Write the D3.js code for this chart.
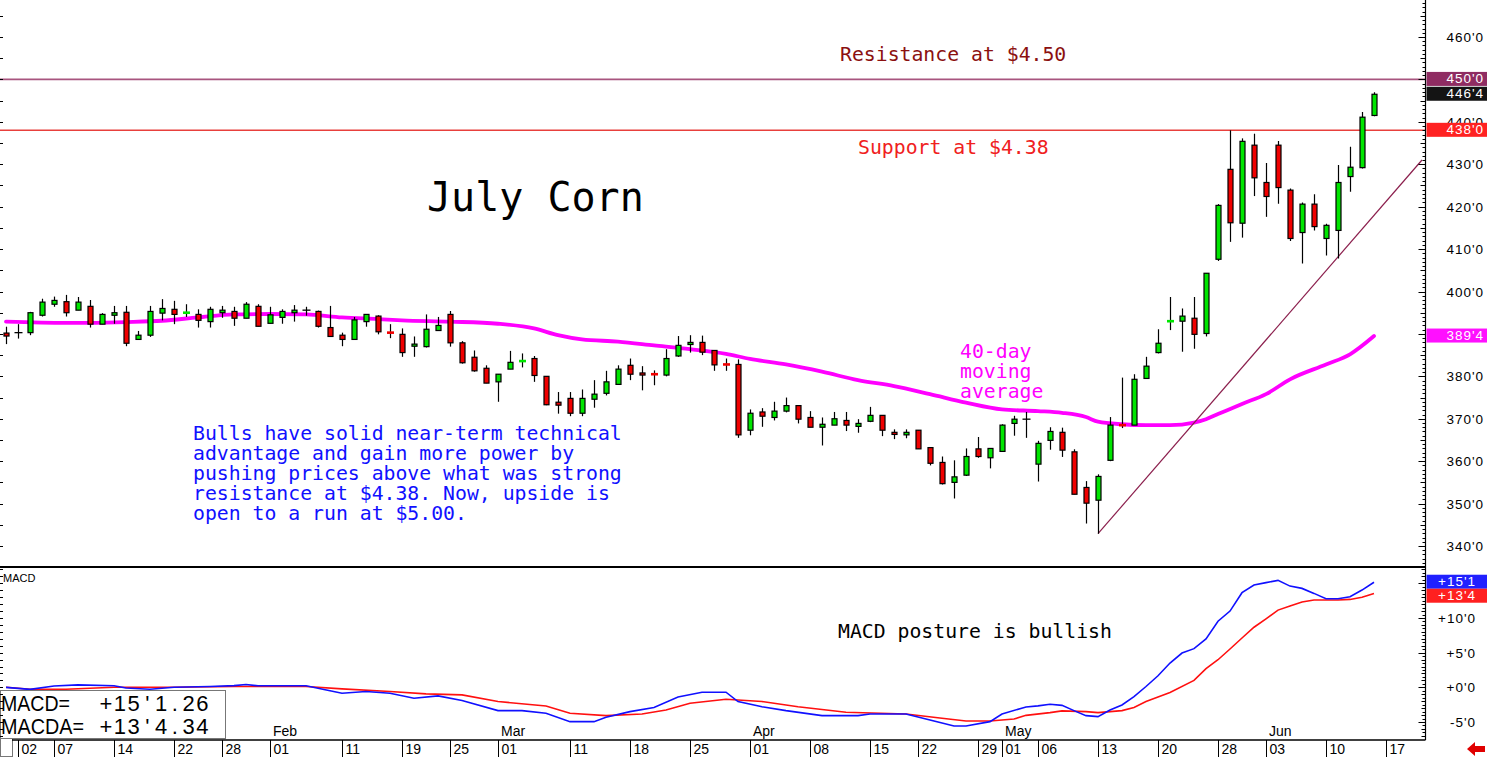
<!DOCTYPE html>
<html>
<head>
<meta charset="utf-8">
<script src="https://cdn.jsdelivr.net/npm/d3@7"></script>
<style>
  body { margin: 0; background: #fff; }
  svg { display: block; font-family: "Liberation Sans", Arial, sans-serif; }
  .note { font-family: "DejaVu Sans Mono", monospace; font-size: 19.8px; }
  .date { font-family: "Liberation Sans Narrow", "Liberation Sans", Arial, sans-serif; font-size: 14px; }
</style>
</head>
<body>
<div id="chart"></div>
<script>
// daily candles, Dec 31 2018 .. Jun 14 2019 (index = trading day)
const opens = [390.2,390.3,390.3,394.4,397.0,397.6,395.6,396.5,392.3,394.4,
  395.1,388.7,389.7,394.9,395.8,394.9,394.6,392.9,395.0,395.3,
  393.7,396.5,392.5,393.9,395.0,395.6,395.3,391.5,389.7,388.7,
  392.9,394.2,390.4,389.9,387.1,387.0,390.8,394.6,387.9,384.5,
  381.9,378.7,381.7,383.5,384.2,380.0,373.9,374.8,371.3,374.6,
  376.0,378.1,382.6,380.8,380.6,380.3,384.8,387.5,388.0,386.1,
  382.9,382.8,367.3,371.6,370.3,371.8,373.1,370.3,368.0,368.5,
  369.6,368.2,369.4,370.8,366.8,366.2,367.3,363.2,359.7,355.0,
  356.7,362.9,360.8,362.3,368.9,369.9,359.3,364.9,366.8,362.2,
  353.8,350.8,360.2,368.6,368.5,379.5,385.6,392.9,393.0,393.7,
  390.1,407.6,428.8,416.1,434.5,425.7,434.5,423.9,413.9,420.6,
  412.5,414.4,427.1,429.2,441.5];
const highs = [391.7,392.3,395.2,398.3,398.8,399.2,398.7,398.0,394.9,396.6,
  396.6,390.7,396.6,398.2,397.8,397.0,395.8,396.4,396.6,396.4,
  397.5,397.0,396.4,395.8,396.8,396.4,395.5,396.6,390.3,394.0,
  394.6,394.4,392.3,391.3,389.4,394.6,394.0,395.4,388.3,386.1,
  382.6,380.5,386.0,385.4,384.8,380.0,376.3,376.3,376.9,379.1,
  381.3,382.6,384.2,382.4,381.4,386.4,389.5,389.7,389.6,386.1,
  384.2,384.0,372.2,372.5,374.0,375.0,373.1,371.8,370.3,371.6,
  371.6,369.9,372.8,370.8,367.5,367.5,367.3,363.2,361.1,360.2,
  363.0,365.7,363.0,368.7,370.7,371.6,364.8,368.0,367.9,362.8,
  355.3,356.9,370.4,379.7,380.5,384.6,391.1,398.7,396.0,398.7,
  404.3,420.6,438.0,436.1,437.2,430.3,435.5,424.3,421.0,422.9,
  416.0,429.8,434.1,442.3,447.0];
const lows = [387.6,388.9,389.7,394.1,396.4,394.1,395.6,391.5,392.3,392.4,
  387.1,388.7,389.3,393.2,392.3,394.0,391.5,391.5,393.8,391.9,
  393.7,391.8,392.5,392.4,392.9,394.3,391.5,389.4,387.1,388.7,
  391.7,389.9,389.0,384.6,384.6,386.8,390.8,387.0,383.0,381.1,
  378.4,374.0,381.7,382.1,378.7,373.2,371.2,370.6,370.6,372.6,
  375.5,378.1,379.1,376.7,377.9,380.0,384.6,385.6,385.0,381.3,
  381.3,365.5,366.1,368.1,369.6,371.5,368.9,368.0,363.7,368.5,
  367.1,366.7,369.2,365.9,365.2,365.4,362.9,359.0,354.5,351.2,
  356.5,360.8,358.3,362.3,366.0,365.5,355.2,362.7,361.0,352.2,
  345.3,342.9,360.0,367.8,368.5,379.5,385.4,390.9,385.8,386.5,
  389.4,407.2,411.7,412.7,422.5,417.6,420.7,411.9,406.6,414.4,
  408.5,407.8,423.5,429.0,441.3];
const closes = [389.5,390.3,395.0,397.5,397.9,395.0,397.5,392.3,394.6,395.0,
  387.8,389.7,395.3,396.0,394.6,395.1,393.2,395.8,395.6,393.7,
  397.0,391.8,394.5,395.3,395.6,395.6,391.8,389.4,388.7,393.3,
  394.6,390.5,390.2,385.6,387.6,391.1,392.0,387.9,383.2,381.3,
  378.4,380.5,383.3,383.7,380.2,373.3,373.2,371.3,374.8,375.8,
  378.7,381.7,380.5,380.3,380.4,384.2,387.3,388.0,385.7,382.7,
  382.7,366.2,371.3,370.6,371.8,373.1,369.9,368.0,368.7,370.0,
  368.5,368.9,370.8,367.3,366.3,366.8,362.9,359.5,354.7,356.3,
  361.1,361.1,363.0,368.5,369.9,369.9,364.2,367.0,362.6,352.2,
  350.1,356.4,368.5,368.4,379.3,382.4,387.8,393.1,394.2,389.9,
  404.3,420.3,416.2,435.4,426.8,422.4,424.5,412.5,420.6,415.3,
  415.6,425.7,429.3,441.1,446.5];

// 40-day moving average at these days
const maDays = [0,5,10,13,16,19,22,25,28,31,33,37,41,44,46,48,51,54,57,60,62,65,68,71,74,77,80,83,86,88,90,91,93,95,97,99,100,101,103,105,107,110,112,114];
const maValues = [392.9,392.6,392.8,393.1,393.9,394.6,394.7,394.6,393.9,393.5,393.2,392.9,392.4,391.3,389.7,388.7,388.2,387.3,386.4,385.3,384.1,382.8,381.1,379.1,377.7,375.8,373.8,372.2,371.8,371.4,370.4,369.3,368.7,368.5,368.5,369.1,369.9,371.1,373.5,375.8,379.3,382.8,385.2,389.5];

// MACD (blue) and its average (red)
const macdDays = [0,2,4,6,9,10,12,14,17,19,20,21,25,27,28,30,32,34,36,38,41,43,45,47,49,50,52,54,56,58,60,61,63,65,68,71,72,75,77,79,80,82,83,85,86,87,88,89,90,91,92,93,94,95,96,97,98,99,100,101,102,103,104,105,106,107,108,109,110,111,112,113,114];
const macdValues = [0.0,-0.3,0.2,0.36,0.22,-0.1,-0.27,0.02,0.12,0.25,0.41,0.22,0.22,-0.5,-0.85,-0.6,-0.85,-1.57,-1.23,-1.9,-3.36,-3.36,-3.74,-4.95,-4.95,-4.3,-3.5,-2.9,-1.4,-0.7,-0.7,-2.05,-2.8,-3.36,-4.08,-4.08,-3.84,-3.84,-4.71,-5.58,-5.58,-4.95,-3.84,-2.83,-2.68,-2.44,-2.6,-3.36,-4.08,-4.23,-3.26,-2.54,-1.33,0.12,1.67,3.5,4.95,5.58,6.98,9.54,11.0,13.65,14.76,15.1,15.43,14.6,14.27,13.55,12.78,12.78,13.07,14.03,15.16];
const signalDays = [0,2,5,9,14,19,25,28,32,35,38,41,45,47,50,53,55,57,60,63,66,70,75,78,80,82,84,85,87,88,90,91,93,94,95,97,99,100,101,102,103,104,105,106,107,108,109,111,112,113,114];
const signalValues = [0.02,-0.27,-0.27,0.02,0.02,0.12,0.12,-0.22,-0.6,-0.94,-1.09,-2.05,-2.68,-3.74,-4.08,-3.84,-3.26,-2.29,-1.71,-2.05,-2.8,-3.6,-3.84,-4.47,-4.86,-4.86,-4.57,-4.04,-3.65,-3.4,-3.5,-3.65,-3.36,-2.92,-2.05,-0.75,1.0,2.7,3.98,5.53,7.12,8.67,9.88,11.14,11.72,12.3,12.59,12.59,12.68,13.0,13.54];

// trend line from the May 13 low
const trendDays = [91, 118];
const trendValues = [342.9, 431.0];

const priceTicks = [340, 350, 360, 370, 380, 390, 400, 410, 420, 430, 440, 460];
const macdTicks = [-5, 0, 5, 10];

const tickDays = [1,4,9,14,18,22,28,33,37,41,47,52,57,62,67,72,76,81,83,86,91,96,101,105,110,115];
const tickLabels = ["02","07","14","22","28","01","11","19","25","01","11","18","25","01","08","15","22","29","01","06","13","20","28","03","10","17"];
const monthDays = [22, 41, 62, 83, 105];
const monthLabels = ["Feb", "Mar", "Apr", "May", "Jun"];

const readoutNames = ["MACD=", "MACDA="];
const readoutValues = ["+15'1.26", "+13'4.34"];

const noteLines = [
  "Bulls have solid near-term technical",
  "advantage and gain more power by",
  "pushing prices above what was strong",
  "resistance at $4.38. Now, upside is",
  "open to a run at $5.00."
];

document.addEventListener("DOMContentLoaded", () => {
  const chartWidth = 1488;
  const chartHeight = 759;
  const axisX = 1425.5;
  const panelSplit = 567;
  const axisBottom = 740;

  const green = "#00e600";
  const red = "#f00000";

  const svg = d3
    .select("#chart")
    .append("svg")
    .attr("width", chartWidth)
    .attr("height", chartHeight);

  svg.append("rect").attr("width", chartWidth).attr("height", chartHeight).attr("fill", "#fff");

  const defs = svg.append("defs");
  defs.append("clipPath").attr("id", "clip-price")
    .append("rect").attr("x", 0).attr("y", 0).attr("width", axisX).attr("height", panelSplit - 1);
  defs.append("clipPath").attr("id", "clip-macd")
    .append("rect").attr("x", 0).attr("y", panelSplit + 1).attr("width", axisX).attr("height", axisBottom - panelSplit - 1);

  const x = d3.scaleLinear().domain([0, 114]).range([6, 1374]);
  const y = d3.scaleLinear().domain([340, 460]).range([546, 37]);
  const yMacd = d3.scaleLinear().domain([-5, 10]).range([722, 618]);

  const fmtPrice = (v) => {
    const whole = Math.floor(v);
    return `${whole}'${Math.round((v - whole) * 8)}`;
  };
  const fmtMacd = (v) => {
    const sign = v < 0 ? "-" : "+";
    const a = Math.abs(v);
    const whole = Math.floor(a);
    return `${sign}${whole}'${Math.round((a - whole) * 8)}`;
  };

  // ---- price panel ----
  const price = svg.append("g").attr("clip-path", "url(#clip-price)");

  price.append("line")
    .attr("x1", 0).attr("x2", axisX)
    .attr("y1", y(450)).attr("y2", y(450))
    .attr("stroke", "#a8557f").attr("stroke-width", 1.6);

  price.append("line")
    .attr("x1", 0).attr("x2", axisX)
    .attr("y1", y(438)).attr("y2", y(438))
    .attr("stroke", "#e8403c").attr("stroke-width", 1.4);

  const maLine = d3.line()
    .x((d) => x(d[0]))
    .y((d) => y(d[1]))
    .curve(d3.curveMonotoneX);

  price.append("path")
    .datum(d3.zip(maDays, maValues))
    .attr("d", maLine)
    .attr("fill", "none")
    .attr("stroke", "#ff00ff")
    .attr("stroke-width", 3.8)
    .attr("stroke-linecap", "round");

  price.append("line")
    .attr("x1", x(trendDays[0])).attr("y1", y(trendValues[0]))
    .attr("x2", x(trendDays[1])).attr("y2", y(trendValues[1]))
    .attr("stroke", "#8b1f4d").attr("stroke-width", 1.2);

  const candles = price.append("g").attr("id", "candles");
  const bodyW = 5;

  opens.forEach((o, i) => {
    const c = closes[i];
    const cx = Math.round(x(i)) + 0.5;
    candles.append("line")
      .attr("x1", cx).attr("x2", cx)
      .attr("y1", y(highs[i])).attr("y2", y(lows[i]))
      .attr("stroke", "#000").attr("stroke-width", 1.2);

    const top = y(Math.max(o, c));
    const bottom = y(Math.min(o, c));
    if (o === c) {
      candles.append("line")
        .attr("x1", cx - 4).attr("x2", cx + 4)
        .attr("y1", top).attr("y2", top)
        .attr("stroke", "#000").attr("stroke-width", 1.3);
    } else if (bottom - top < 2) {
      candles.append("rect")
        .attr("x", cx - 3.5).attr("y", (top + bottom) / 2 - 1.3)
        .attr("width", 7).attr("height", 2.6)
        .attr("fill", c > o ? green : red);
    } else {
      candles.append("rect")
        .attr("x", cx - bodyW / 2).attr("y", top)
        .attr("width", bodyW).attr("height", bottom - top)
        .attr("fill", c > o ? green : red)
        .attr("stroke", "#000").attr("stroke-width", 1.2);
    }
  });

  // annotations
  svg.append("text").attr("class", "note")
    .attr("x", 840).attr("y", 61)
    .attr("fill", "#8b1010")
    .text("Resistance at $4.50");

  svg.append("text").attr("class", "note")
    .attr("x", 858).attr("y", 154)
    .attr("fill", "#f02020")
    .text("Support at $4.38");

  svg.append("text").attr("class", "note")
    .attr("x", 427).attr("y", 211)
    .style("font-size", "40px")
    .attr("fill", "#000")
    .text("July Corn");

  ["40-day", "moving", "average"].forEach((t, k) => {
    svg.append("text").attr("class", "note")
      .attr("x", 960).attr("y", 358 + k * 20)
      .attr("fill", "#ff00ff")
      .text(t);
  });

  noteLines.forEach((t, k) => {
    svg.append("text").attr("class", "note")
      .attr("x", 193).attr("y", 440 + k * 20)
      .attr("fill", "#1010ff")
      .text(t);
  });

  // ---- MACD panel ----
  const macd = svg.append("g").attr("clip-path", "url(#clip-macd)");
  const macdLine = d3.line()
    .x((d) => x(d[0]))
    .y((d) => yMacd(d[1]));

  macd.append("path")
    .datum(d3.zip(signalDays, signalValues))
    .attr("d", macdLine)
    .attr("fill", "none").attr("stroke", "#ff1010").attr("stroke-width", 1.6);

  macd.append("path")
    .datum(d3.zip(macdDays, macdValues))
    .attr("d", macdLine)
    .attr("fill", "none").attr("stroke", "#1010ff").attr("stroke-width", 1.6);

  svg.append("text")
    .attr("x", 3).attr("y", 582)
    .style("font-size", "11px")
    .text("MACD");

  svg.append("text").attr("class", "note")
    .attr("x", 838).attr("y", 638)
    .attr("fill", "#000")
    .text("MACD posture is bullish");

  // readout box
  const box = svg.append("g");
  box.append("rect")
    .attr("x", 0.5).attr("y", 690.5).attr("width", 225).attr("height", 48)
    .attr("fill", "#fff").attr("stroke", "#777");
  box.append("rect")
    .attr("x", 0.5).attr("y", 738.5).attr("width", 12).attr("height", 18)
    .attr("fill", "#fff").attr("stroke", "#777");
  const cell = 13.75;
  readoutNames.forEach((name, k) => {
    const by = 711 + k * 23;
    box.append("text").attr("x", 1).attr("y", by)
      .style("font-size", "22px")
      .attr("textLength", k === 0 ? 69 : 83)
      .attr("lengthAdjust", "spacingAndGlyphs")
      .text(name);
    const chars = readoutValues[k].split("");
    box.append("text")
      .attr("x", chars.map((_, j) => (106 + j * cell).toFixed(2)).join(" "))
      .attr("y", by)
      .attr("text-anchor", "middle")
      .style("font-size", "22px")
      .text(readoutValues[k]);
  });

  // panel separator
  svg.append("line")
    .attr("x1", 0).attr("x2", axisX)
    .attr("y1", panelSplit).attr("y2", panelSplit)
    .attr("stroke", "#000").attr("stroke-width", 2);

  // ---- right axis ----
  svg.append("line")
    .attr("x1", axisX).attr("x2", axisX)
    .attr("y1", 0).attr("y2", axisBottom)
    .attr("stroke", "#000").attr("stroke-width", 1.2);

  const rightTicks = svg.append("g").attr("stroke", "#000").attr("stroke-width", 1);
  d3.range(335, 469).forEach((v) => {
    const len = v % 10 === 0 ? 7 : v % 5 === 0 ? 5 : 3;
    const ty = Math.round(y(v)) + 0.5;
    if (ty > panelSplit - 2) return;
    rightTicks.append("line").attr("x1", axisX - len).attr("x2", axisX).attr("y1", ty).attr("y2", ty);
    if (v % 5 === 0) {
      rightTicks.append("line").attr("x1", 0).attr("x2", 3).attr("y1", ty).attr("y2", ty);
    }
  });
  d3.range(-7, 17.5, 0.5).forEach((v) => {
    const len = v % 5 === 0 ? 7 : Number.isInteger(v) ? 4 : 3;
    const ty = Math.round(yMacd(v)) + 0.5;
    if (ty < panelSplit + 2 || ty > axisBottom - 1) return;
    rightTicks.append("line").attr("x1", axisX - len).attr("x2", axisX).attr("y1", ty).attr("y2", ty);
    if (Number.isInteger(v)) {
      rightTicks.append("line").attr("x1", 0).attr("x2", 3).attr("y1", ty).attr("y2", ty);
    }
  });

  const axisLabels = svg.append("g")
    .style("font-size", "13.5px")
    .style("letter-spacing", "1px")
    .attr("text-anchor", "end");

  axisLabels.selectAll(".ptick")
    .data(priceTicks)
    .enter()
    .append("text")
    .attr("class", "ptick")
    .attr("x", 1484).attr("y", (d) => y(d) + 5)
    .text((d) => fmtPrice(d));

  axisLabels.selectAll(".mtick")
    .data(macdTicks)
    .enter()
    .append("text")
    .attr("class", "mtick")
    .attr("x", 1476).attr("y", (d) => yMacd(d) + 5)
    .text((d) => fmtMacd(d));

  // value boxes on the axis
  const valueBoxes = [
    { v: 450, fill: "#8f2c62", label: fmtPrice(450), scale: y },
    { v: 446.5, fill: "#141414", label: fmtPrice(446.5), scale: y },
    { v: 438, fill: "#ff2222", label: fmtPrice(438), scale: y },
    { v: 389.5, fill: "#ff10ff", label: fmtPrice(389.5), scale: y },
    { v: macdValues[macdValues.length - 1], fill: "#2020ff", label: fmtMacd(macdValues[macdValues.length - 1]), scale: yMacd },
    { v: signalValues[signalValues.length - 1], fill: "#ff2020", label: fmtMacd(signalValues[signalValues.length - 1]), scale: yMacd }
  ];
  let lastBottom = -Infinity;
  valueBoxes.forEach((b) => {
    let top = b.scale(b.v) - 7.5;
    if (top < lastBottom) top = lastBottom;
    lastBottom = top + 14;
    svg.append("rect")
      .attr("x", axisX + 1).attr("y", top)
      .attr("width", chartWidth - axisX - 2).attr("height", 14)
      .attr("fill", b.fill);
    svg.append("text")
      .attr("x", b.scale === y ? 1484 : 1476).attr("y", top + 11.5)
      .attr("text-anchor", "end")
      .attr("fill", "#fff")
      .style("font-size", "13.5px")
      .style("letter-spacing", "1px")
      .text(b.label);
  });

  // ---- date axis ----
  svg.append("line")
    .attr("x1", 12).attr("x2", axisX)
    .attr("y1", axisBottom).attr("y2", axisBottom)
    .attr("stroke", "#000").attr("stroke-width", 1.5);

  const dateAxis = svg.append("g").attr("class", "date");
  tickDays.forEach((d, k) => {
    const tx = Math.round(x(d)) + 0.5;
    dateAxis.append("line")
      .attr("x1", tx).attr("x2", tx)
      .attr("y1", axisBottom).attr("y2", 757)
      .attr("stroke", "#000").attr("stroke-width", 1);
    dateAxis.append("text")
      .attr("x", tx + 3).attr("y", 754)
      .text(tickLabels[k]);
  });
  monthDays.forEach((d, k) => {
    dateAxis.append("text")
      .attr("x", Math.round(x(d)) + 3).attr("y", 736)
      .text(monthLabels[k]);
  });

  // scroll arrow
  svg.append("path")
    .attr("d", "M1467,749 L1475,742 L1475,746 L1485,746 L1485,752 L1475,752 L1475,756 Z")
    .attr("fill", "#e00000");
});
</script>
</body>
</html>
